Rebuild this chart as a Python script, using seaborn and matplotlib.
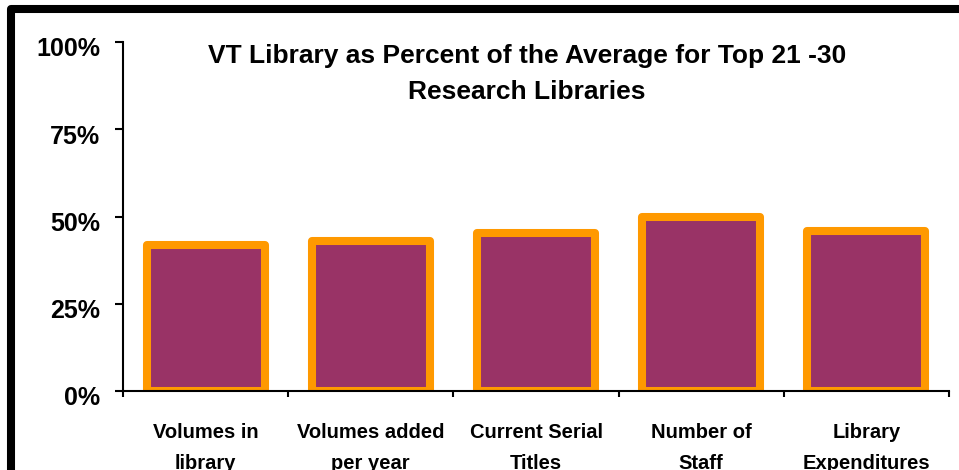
import matplotlib
matplotlib.use("Agg")
import matplotlib.pyplot as plt
import matplotlib.transforms as mtransforms
from matplotlib.patches import Rectangle
import seaborn as sns
import pandas as pd

categories = ["Volumes in\nlibrary", "Volumes added\nper year", "Current Serial\nTitles",
              "Number of\nStaff", "Library\nExpenditures"]
values = [41.9, 42.9, 45.2, 49.8, 45.8]
ytick_values = [0, 25, 50, 75, 100]
ytick_labels = ["0%", "25%", "50%", "75%", "100%"]
title_line1 = "VT Library as Percent of the Average for Top 21 -30"
title_line2 = "Research Libraries"

sns.set_theme(style="white")
plt.rcParams["font.family"] = ["Liberation Sans", "DejaVu Sans"]
plt.rcParams["text.color"] = "black"
plt.rcParams["xtick.color"] = "black"
plt.rcParams["ytick.color"] = "black"
plt.rcParams["xtick.labelcolor"] = "black"
plt.rcParams["ytick.labelcolor"] = "black"

W, H = 959, 470
fig = plt.figure(figsize=(W / 100, H / 100), dpi=100)
fig.patch.set_facecolor("white")
ax = fig.add_axes([123 / W, 79 / H, (949 - 123) / W, (391 - 42) / H])
ax.set_facecolor("white")

df = pd.DataFrame({"category": categories, "value": values})
sns.barplot(data=df, x="category", y="value", ax=ax, color="#993366",
            saturation=1, width=0.715, edgecolor="#FF9900", linewidth=5.8)
for p in ax.patches:
    p.set_joinstyle("round")

ax.set_xlim(-0.5, len(categories) - 0.5)
ax.set_ylim(0, 100)
ax.set_xlabel("")
ax.set_ylabel("")

for s in ["top", "right"]:
    ax.spines[s].set_visible(False)
for s in ["left", "bottom"]:
    ax.spines[s].set_linewidth(1.5)
    ax.spines[s].set_color("black")

# x: labels at centers (no mark), ticks at category boundaries
ax.set_xticks(range(len(categories)))
ax.set_xticklabels(categories, fontsize=14.5, fontweight="bold", linespacing=1.8, color="black")
ax.set_xticks([i - 0.5 for i in range(len(categories) + 1)], minor=True)
ax.tick_params(axis="x", which="major", length=0, pad=23)
ax.tick_params(axis="x", which="minor", length=4.5, width=1.5, color="black", direction="out", bottom=True)

ax.set_yticks(ytick_values)
ax.set_yticklabels(ytick_labels, fontsize=18, fontweight="bold", color="black")
ax.tick_params(axis="y", which="major", length=5.8, width=1.5, color="black", direction="out", left=True, pad=10.5)
off = mtransforms.ScaledTranslation(0, -3.5 / 72, fig.dpi_scale_trans)
for lab in ax.get_yticklabels():
    lab.set_transform(lab.get_transform() + off)

fig.text(527 / W, (H - 63) / H, title_line1, ha="center", va="baseline",
         fontsize=19, fontweight="bold", color="black")
fig.text(527 / W, (H - 99) / H, title_line2, ha="center", va="baseline",
         fontsize=19, fontweight="bold", color="black")

border = Rectangle((10.5 / W, -1.5 / H), 2.0, (H - 8.5 + 1.5) / H, transform=fig.transFigure,
                   fill=False, edgecolor="black", linewidth=5.8, joinstyle="round", clip_on=False)
fig.add_artist(border)

fig.savefig("out.png", dpi=100, facecolor="white")
